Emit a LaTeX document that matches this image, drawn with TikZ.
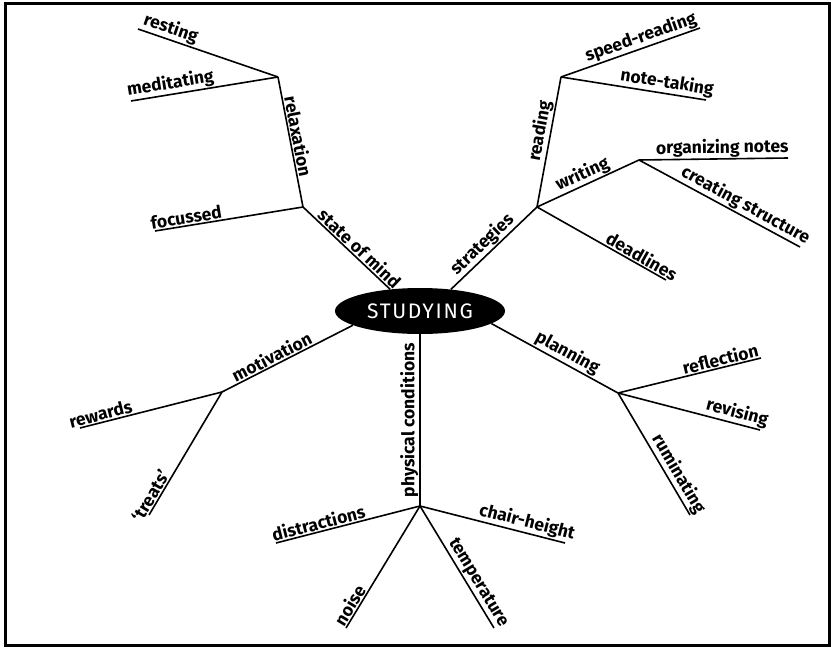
\documentclass[tikz,border=0pt]{standalone}
\usepackage{fontspec}
\setmainfont{Fira Sans}
\usetikzlibrary{%
  shapes.geometric%
}
\tikzset{>=latex}
\tikzset{
  branch/.style={line width=1.6pt},
  lbl/.style={sloped,above,inner sep=1pt,font=\bfseries\fontsize{17.5}{17.5}\selectfont}
}

\begin{document}
\begin{tikzpicture}[x=1pt,y=-1pt]
        \useasboundingbox (0,0) rectangle (831,648);
        \draw[line width=3pt] (5,3) rectangle (829,645);
        % centre
        \node[ellipse,fill=black,text=white,minimum width=170pt,
          minimum height=46pt,inner sep=0pt,
          font=\addfontfeature{LetterSpace=8}\fontsize{21}{21}\selectfont] (studying) at (420,311) {STUDYING};
        % branch points
        \coordinate (mind) at (303,207);
        \coordinate (relax) at (278,77);
        \coordinate (strat) at (537,207);
        \coordinate (read) at (561,77);
        \coordinate (write) at (639,160);
        \coordinate (motiv) at (222,392);
        \coordinate (phys) at (420,506);
        \coordinate (plan) at (618,393);
        % ends
        \foreach \n/\x/\y in {rest/138/29, medit/131/101, foc/155/231,
          speed/700/28, notet/706/100, organ/788/158, creat/800/247,
          dead/666/280, rew/80/428, treat/149/515, distr/276/543,
          noise/346/628, chair/565/543, temp/494/628, refl/761/358,
          revis/760/430, rumin/690/515}
          \coordinate (\n) at (\x,\y);
        % state of mind
        \draw[branch] (studying.144) -- node[lbl,pos=.42] (l-mind) {state of mind} (mind);
        \draw[branch] (mind) -- node[lbl,pos=.78] (l-foc) {focussed} (foc);
        \draw[branch] (mind) -- node[lbl,pos=.53] (l-relax) {relaxation} (relax);
        \draw[branch] (relax) -- node[lbl,pos=.72] (l-medit) {meditating} (medit);
        \draw[branch] (relax) -- node[lbl,pos=.79] (l-rest) {resting} (rest);
        % strategies
        \draw[branch] (studying.35) -- node[lbl,pos=.45] (l-strat) {strategies} (strat);
        \draw[branch] (strat) -- node[lbl,pos=.57] (l-read) {reading} (read);
        \draw[branch] (read) -- node[lbl,pos=.6] (l-speed) {speed-reading} (speed);
        \draw[branch] (read) -- node[lbl,pos=.72] (l-notet) {note-taking} (notet);
        \draw[branch] (strat) -- node[lbl,pos=.49] (l-write) {writing} (write);
        \draw[branch] (write) -- node[lbl,pos=.56] (l-organ) {organizing notes} (organ);
        \draw[branch] (write) -- node[lbl,pos=.63] (l-creat) {creating structure} (creat);
        \draw[branch] (strat) -- node[lbl,pos=.78] (l-dead) {deadlines} (dead);
        % motivation
        \draw[branch] (studying.192) -- node[lbl,pos=.59] (l-motiv) {motivation} (motiv);
        \draw[branch] (motiv) -- node[lbl,pos=.84] (l-rew) {rewards} (rew);
        \draw[branch] (motiv) -- node[lbl,pos=.88] (l-treat) {`treats'} (treat);
        % physical conditions
        \draw[branch] (phys) -- node[lbl,pos=.5] (l-phys) {physical conditions} (studying.south);
        \draw[branch] (phys) -- node[lbl,pos=.69] (l-distr) {distractions} (distr);
        \draw[branch] (phys) -- node[lbl,pos=.85] (l-noise) {noise} (noise);
        \draw[branch] (phys) -- node[lbl,pos=.72] (l-chair) {chair-height} (chair);
        \draw[branch] (phys) -- node[lbl,pos=.67] (l-temp) {temperature} (temp);
        % planning
        \draw[branch] (studying.-10) -- node[lbl,pos=.56] (l-plan) {planning} (plan);
        \draw[branch] (plan) -- node[lbl,pos=.73] (l-refl) {reflection} (refl);
        \draw[branch] (plan) -- node[lbl,pos=.82] (l-revis) {revising} (revis);
        \draw[branch] (plan) -- node[lbl,pos=.71] (l-rumin) {ruminating} (rumin);
      \end{tikzpicture}
\end{document}
